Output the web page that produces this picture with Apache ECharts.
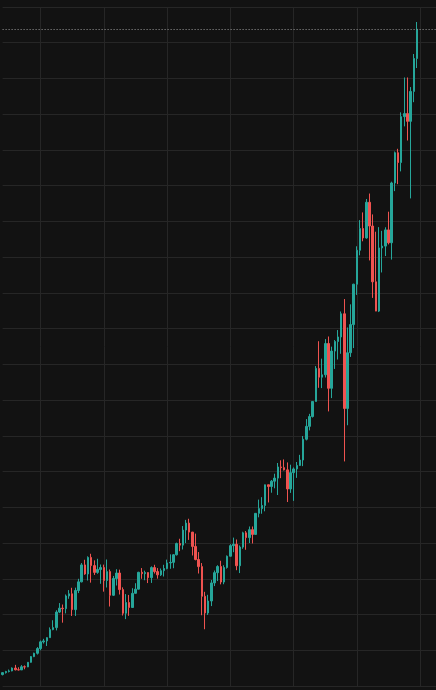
<!DOCTYPE html>
<html>
<head>
<meta charset="utf-8">
<script src="https://cdn.jsdelivr.net/npm/echarts@6/dist/echarts.min.js"></script>
<style>
html,body{margin:0;padding:0;background:#121212;}
#chart{width:436px;height:690px;}
</style>
</head>
<body>
<div id="chart"></div>
<script>
// Quarterly candles (1993 Q1 – 2025 Q4)
const quarters = [];
for (let y = 1993; y <= 2027; y++) { for (let q = 1; q <= 4; q++) { quarters.push(y + ' Q' + q); } }
const categories = quarters.slice(0, 138);

const opens = [3301,3435,3516,3555,3754,3636,3625,3843,3834,4158,4556,4789,5117,5587,5655,5882,6448,6584,7673,7945,7908,8800,8952,7843,9181,9786,10971,10337,11497,10922,10448,10651,10787,9879,10502,8848,10022,10404,9243,7592,8342,7992,8985,9275,10454,10358,10435,10080,10783,10504,10275,10569,10718,11109,11150,11679,12463,12354,13409,13896,13265,12263,11350,10851,8776,7609,8447,9712,10428,10857,9774,10788,11578,12320,12414,10913,12218,13212,12880,13437,13104,14579,14910,15130,16577,16458,16827,17043,17823,17776,17620,16285,17425,17685,17930,18308,19763,20663,21350,22405,24719,24103,24271,26458,23327,25929,26600,26917,28538,21917,25813,27782,30606,32982,34503,33844,36338,34678,30775,28726,33147,33274,34408,33508,37690,39807,39119,42330,42544,42001,44095,46398];
const highs = [3480,3560,3652,3800,3978,3810,3960,3940,4180,4590,4830,5220,5680,5800,5910,6600,7100,7800,8300,8200,8900,9210,9370,9380,10000,11100,11330,11570,11750,11290,11400,11000,10990,11350,10650,10200,10670,10640,9400,8930,8870,9340,9690,10490,10750,10570,10450,10870,10980,10750,10720,10980,11340,11710,11730,12530,12800,13690,14120,14200,13280,13160,11870,11100,9090,8880,9920,10580,10950,11260,10950,11630,12420,12880,12750,12330,13290,13340,13660,13660,14590,15540,15710,16590,16590,16910,17350,18100,18290,18350,18140,17980,17790,18170,18670,19990,21170,21540,22420,24880,26620,25400,26770,26950,26240,26700,27400,28700,29570,27580,29200,30640,33260,35090,35630,36570,36950,35490,34280,34600,34340,34590,35680,37780,39890,40080,42630,45070,45070,44400,46710,48950];
const lows = [3242,3370,3450,3530,3590,3590,3620,3670,3820,4130,4520,4700,5000,5470,5300,5870,6400,6390,7600,6930,7580,8600,7400,7400,9000,9750,10280,9880,9730,10270,10350,9650,9100,9390,8060,8800,9530,8900,7430,7180,7410,7990,8960,9250,10000,9900,9700,9710,10370,10010,10200,10160,10660,10700,10740,11630,11930,12050,12500,12720,11630,11290,10370,7450,6470,7470,8090,9490,9840,9610,9620,10710,11560,11860,10600,10400,12100,12030,12500,12470,13100,14300,14550,14720,15340,16020,16330,15860,17040,17580,15370,16010,15450,17060,17890,17880,19680,20380,21280,22400,23360,23340,24080,21710,22640,24680,25340,25740,18210,20740,25520,26140,29860,32630,33610,33790,32270,29650,28720,28660,31430,32580,33390,32330,37120,37610,38500,41650,40660,36610,43340,45730];
const closes = [3435,3516,3555,3754,3636,3625,3843,3834,4158,4556,4789,5117,5587,5655,5882,6448,6584,7673,7945,7908,8800,8952,7843,9181,9786,10971,10337,11497,10922,10448,10651,10787,9879,10502,8848,10022,10404,9243,7592,8342,7992,8985,9275,10454,10358,10435,10080,10783,10504,10275,10569,10718,11109,11150,11679,12463,12354,13409,13896,13265,12263,11350,10851,8776,7609,8447,9712,10428,10857,9774,10788,11578,12320,12414,10913,12218,13212,12880,13437,13104,14579,14910,15130,16577,16458,16827,17043,17823,17776,17620,16285,17425,17685,17930,18308,19763,20663,21350,22405,24719,24103,24271,26458,23327,25929,26600,26917,28538,21917,25813,27782,30606,32982,34503,33844,36338,34678,30775,28726,33147,33274,34408,33508,37690,39807,39119,42330,42544,42001,44095,46398,48450];
const lastPrice = 48450;

const candles = categories.map((c, i) =>
  i < closes.length ? [opens[i], closes[i], lows[i], highs[i]] : '-'
);

const chart = echarts.init(document.getElementById('chart'), null, { renderer: 'canvas' });
chart.setOption({
  backgroundColor: '#121212',
  animation: false,
  grid: { left: 2.6, top: 7, width: 433.8, bottom: 4 },
  xAxis: {
    type: 'category',
    data: categories,
    boundaryGap: false,
    axisLine: { show: false },
    axisTick: { show: false },
    axisLabel: { show: false },
    splitLine: {
      show: true,
      interval: (idx) => idx >= 12 && (idx - 12) % 20 === 0,
      lineStyle: { color: '#262626', width: 1 }
    }
  },
  yAxis: {
    type: 'value',
    min: 2500,
    max: 50000,
    interval: 2500,
    axisLine: { show: false },
    axisTick: { show: false },
    axisLabel: { show: false },
    splitLine: { show: true, lineStyle: { color: '#262626', width: 1 } }
  },
  series: [{
    type: 'candlestick',
    data: candles,
    barWidth: 2,
    itemStyle: {
      color: '#26a69a',
      color0: '#ef5350',
      borderColor: '#26a69a',
      borderColor0: '#ef5350',
      borderWidth: 1
    },
    markLine: {
      silent: true,
      symbol: ['none', 'none'],
      label: { show: false },
      lineStyle: { color: '#9a9a9a', type: [1, 2], width: 1 },
      data: [{ yAxis: lastPrice }]
    }
  }]
});
</script>
</body>
</html>
